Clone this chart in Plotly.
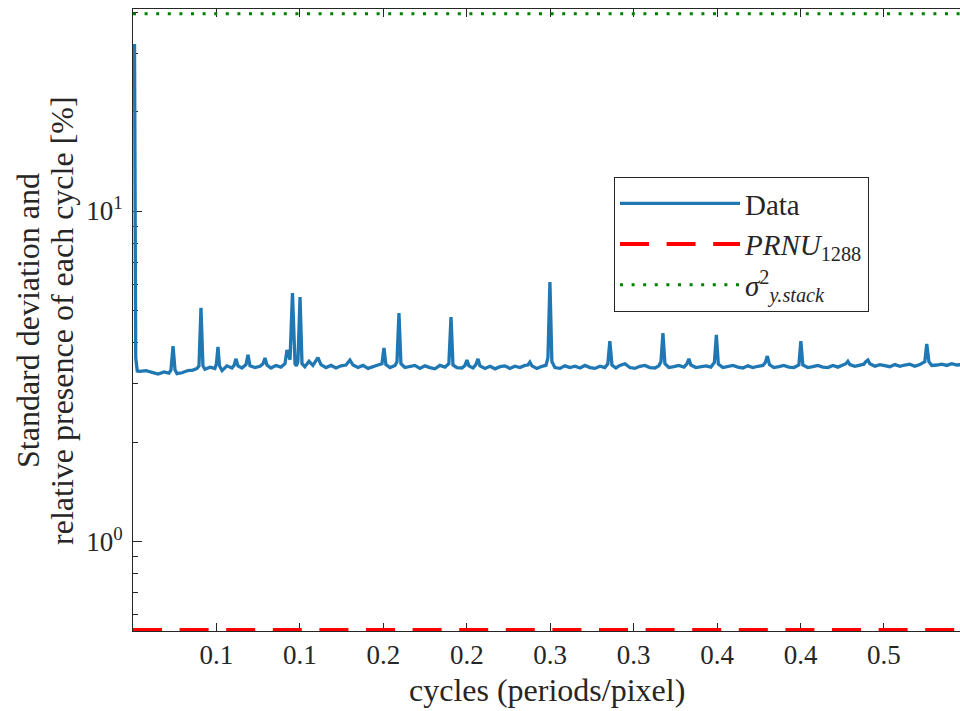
import plotly.graph_objects as go

# ---- data ----
freq = [0.0010, 0.0018, 0.0028, 0.0046, 0.0086, 0.0125, 0.0165, 0.0204, 0.0237, 0.0250,
        0.0264, 0.0277, 0.0290, 0.0323, 0.0362, 0.0395, 0.0422, 0.0435, 0.0448, 0.0461,
        0.0474, 0.0507, 0.0540, 0.0550, 0.0560, 0.0570, 0.0587, 0.0619, 0.0652, 0.0666,
        0.0679, 0.0692, 0.0718, 0.0745, 0.0758, 0.0771, 0.0804, 0.0837, 0.0857, 0.0870,
        0.0883, 0.0909, 0.0942, 0.0975, 0.1002, 0.1015, 0.1035, 0.1051, 0.1068, 0.1077,
        0.1087, 0.1101, 0.1114, 0.1133, 0.1160, 0.1186, 0.1219, 0.1239, 0.1272, 0.1305,
        0.1338, 0.1371, 0.1404, 0.1430, 0.1450, 0.1483, 0.1516, 0.1549, 0.1582, 0.1615,
        0.1641, 0.1654, 0.1667, 0.1694, 0.1727, 0.1740, 0.1753, 0.1766, 0.1792, 0.1825,
        0.1858, 0.1891, 0.1924, 0.1957, 0.1990, 0.2023, 0.2056, 0.2082, 0.2096, 0.2109,
        0.2135, 0.2168, 0.2188, 0.2201, 0.2214, 0.2241, 0.2260, 0.2274, 0.2287, 0.2320,
        0.2353, 0.2386, 0.2419, 0.2451, 0.2484, 0.2517, 0.2550, 0.2583, 0.2603, 0.2616,
        0.2629, 0.2662, 0.2695, 0.2722, 0.2735, 0.2748, 0.2761, 0.2781, 0.2814, 0.2847,
        0.2880, 0.2913, 0.2946, 0.2979, 0.3012, 0.3045, 0.3078, 0.3110, 0.3130, 0.3143,
        0.3157, 0.3183, 0.3209, 0.3242, 0.3275, 0.3308, 0.3341, 0.3374, 0.3407, 0.3440,
        0.3466, 0.3480, 0.3493, 0.3506, 0.3532, 0.3565, 0.3598, 0.3631, 0.3651, 0.3664,
        0.3677, 0.3710, 0.3743, 0.3776, 0.3809, 0.3832, 0.3845, 0.3858, 0.3888, 0.3921,
        0.3954, 0.3987, 0.4020, 0.4053, 0.4086, 0.4119, 0.4152, 0.4168, 0.4181, 0.4195,
        0.4224, 0.4257, 0.4290, 0.4323, 0.4356, 0.4389, 0.4402, 0.4415, 0.4448, 0.4481,
        0.4514, 0.4547, 0.4580, 0.4613, 0.4646, 0.4679, 0.4699, 0.4712, 0.4725, 0.4758,
        0.4791, 0.4817, 0.4830, 0.4844, 0.4857, 0.4890, 0.4923, 0.4956, 0.4989, 0.5022,
        0.5055, 0.5087, 0.5120, 0.5153, 0.5186, 0.5219, 0.5232, 0.5246, 0.5265, 0.5298,
        0.5331, 0.5364, 0.5397, 0.5430, 0.5463]

data_std = [32.0, 3.60, 3.28, 3.27, 3.29, 3.25, 3.21, 3.26, 3.23, 3.30,
            3.90, 3.30, 3.22, 3.24, 3.29, 3.30, 3.34, 3.40, 5.09, 3.40,
            3.32, 3.37, 3.34, 3.45, 3.88, 3.40, 3.29, 3.40, 3.35, 3.41,
            3.57, 3.40, 3.35, 3.43, 3.67, 3.40, 3.36, 3.39, 3.45, 3.59,
            3.42, 3.35, 3.41, 3.37, 3.45, 3.80, 3.55, 5.65, 3.45, 3.40,
            3.50, 5.49, 3.45, 3.38, 3.51, 3.41, 3.60, 3.43, 3.36, 3.41,
            3.35, 3.40, 3.42, 3.54, 3.42, 3.36, 3.41, 3.34, 3.39, 3.42,
            3.45, 3.85, 3.43, 3.36, 3.41, 3.50, 4.91, 3.45, 3.36, 3.39,
            3.41, 3.34, 3.40, 3.36, 3.33, 3.41, 3.37, 3.45, 4.78, 3.42,
            3.36, 3.35, 3.41, 3.54, 3.40, 3.35, 3.43, 3.57, 3.40, 3.34,
            3.39, 3.33, 3.38, 3.40, 3.34, 3.39, 3.36, 3.41, 3.42, 3.49,
            3.40, 3.34, 3.39, 3.41, 3.60, 6.10, 3.50, 3.36, 3.34, 3.40,
            3.36, 3.39, 3.35, 3.41, 3.36, 3.34, 3.39, 3.36, 3.45, 4.04,
            3.42, 3.35, 3.41, 3.45, 3.36, 3.34, 3.39, 3.41, 3.36, 3.35,
            3.40, 3.50, 4.27, 3.45, 3.36, 3.38, 3.41, 3.37, 3.45, 3.57,
            3.42, 3.36, 3.38, 3.40, 3.37, 3.48, 4.22, 3.44, 3.36, 3.38,
            3.41, 3.37, 3.35, 3.40, 3.36, 3.39, 3.41, 3.48, 3.64, 3.43,
            3.36, 3.38, 3.41, 3.37, 3.36, 3.42, 4.04, 3.42, 3.36, 3.38,
            3.41, 3.37, 3.36, 3.41, 3.37, 3.42, 3.45, 3.51, 3.43, 3.39,
            3.42, 3.44, 3.50, 3.54, 3.45, 3.39, 3.43, 3.40, 3.38, 3.43,
            3.39, 3.42, 3.44, 3.39, 3.43, 3.50, 3.96, 3.50, 3.41, 3.42,
            3.44, 3.41, 3.45, 3.42, 3.43]

prnu_level = 0.54
sigma_level = 39.5
line_span = [0.0, 0.56]

x_tick_vals = [0.055, 0.110, 0.165, 0.220, 0.275, 0.330, 0.385, 0.440, 0.495]
x_tick_text = ["0.1", "0.1", "0.2", "0.2", "0.3", "0.3", "0.4", "0.4", "0.5"]
y_tick_vals = [1, 10]
y_tick_text = ["10<sup>0</sup>", "10<sup>1</sup>"]
y_minor_vals = [0.6, 0.7, 0.8, 0.9, 2, 3, 4, 5, 6, 7, 8, 9, 20, 30, 40]

x_range = [0.0, 0.5451]
y_range_log = [-0.2708, 1.6112]

FONT = "Liberation Serif"
INK = "#262626"

fig = go.Figure()
fig.add_trace(go.Scatter(
    x=freq, y=data_std, mode="lines", name="Data",
    line=dict(color="#1f77b4", width=3.3)))
fig.add_trace(go.Scatter(
    x=line_span, y=[prnu_level, prnu_level], mode="lines",
    name="<i>PRNU</i><sub>1288</sub>",
    line=dict(color="#ff0000", width=4, dash="29px,17.6px")))
fig.add_trace(go.Scatter(
    x=line_span, y=[sigma_level, sigma_level], mode="lines",
    name="<i>σ</i><sup>2</sup><sub><i>y.stack</i></sub>",
    line=dict(color="#008000", width=3, dash="3px,8.6px")))

fig.update_layout(
    width=960, height=711,
    margin=dict(l=133, r=0, t=9, b=80, pad=0, autoexpand=False),
    paper_bgcolor="white", plot_bgcolor="white",
    font=dict(family=FONT, color=INK, size=27),
    showlegend=True,
    legend=dict(
        x=0.5816, y=0.7299, xanchor="left", yanchor="top",
        bgcolor="white", bordercolor=INK, borderwidth=1,
        font=dict(family=FONT, size=29, color=INK),
        itemwidth=120, tracegroupgap=0,
    ),
    xaxis=dict(
        range=x_range, tickmode="array", tickvals=x_tick_vals, ticktext=x_tick_text,
        ticks="inside", ticklen=8, tickwidth=1, tickcolor=INK,
        showline=True, linecolor=INK, linewidth=1, mirror="ticks",
        showgrid=False, zeroline=False, layer="below traces", automargin=False,
        tickfont=dict(family=FONT, size=27, color=INK),
    ),
    yaxis=dict(
        type="log", range=y_range_log, tickmode="array",
        tickvals=y_tick_vals, ticktext=y_tick_text,
        ticks="inside", ticklen=9, tickwidth=1, tickcolor=INK,
        minor=dict(tickmode="array", tickvals=y_minor_vals, ticks="inside",
                   ticklen=5, tickwidth=1, tickcolor=INK, showgrid=False),
        showline=True, linecolor=INK, linewidth=1, mirror=False,
        showgrid=False, zeroline=False, layer="below traces", automargin=False,
        ticklabelstandoff=4,
        tickfont=dict(family=FONT, size=27, color=INK),
    ),
    annotations=[
        dict(text="cycles (periods/pixel)", xref="paper", yref="paper",
             x=0.5, y=-0.0949, xanchor="center", yanchor="middle",
             showarrow=False, font=dict(family=FONT, size=32, color=INK)),
        dict(text="Standard deviation and", xref="paper", yref="paper",
             x=-0.127, y=0.5, xanchor="center", yanchor="middle",
             textangle=-90, showarrow=False,
             font=dict(family=FONT, size=32, color=INK)),
        dict(text="relative presence of each cycle [%]", xref="paper", yref="paper",
             x=-0.0859, y=0.5, xanchor="center", yanchor="middle",
             textangle=-90, showarrow=False,
             font=dict(family=FONT, size=32, color=INK)),
    ],
)

# remove the browser's default 8px body margin so the figure fills the window
fig.write_html(
    "out.html",
    config={"displayModeBar": False},
    post_script="document.body.style.margin='0px';document.body.style.overflow='hidden';",
)
